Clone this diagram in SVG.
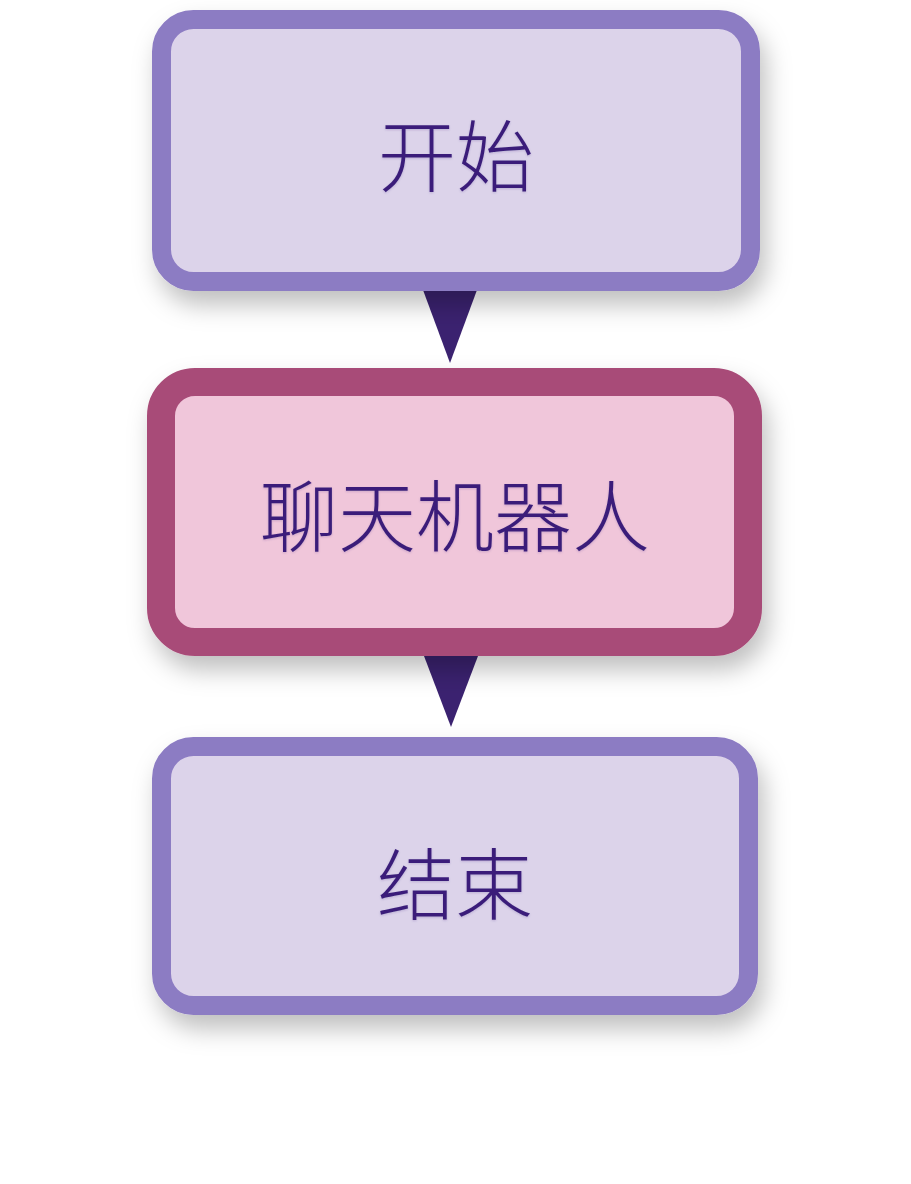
<svg xmlns="http://www.w3.org/2000/svg" width="911" height="1184" viewBox="0 0 911 1184">
  <defs>
    <filter id="shadow" x="-20%" y="-20%" width="140%" height="160%">
      <feDropShadow dx="6" dy="14" stdDeviation="12" flood-color="#000" flood-opacity="0.25"/>
    </filter>
    <filter id="tshadow" x="-10%" y="-10%" width="120%" height="130%">
      <feDropShadow dx="0" dy="1" stdDeviation="1" flood-color="#3a1f7a" flood-opacity="0.2"/>
    </filter>
  </defs>
  <style>
    .lav rect { fill: #dcd3ea; stroke: #8c7bc3; stroke-width: 19; }
    .pink rect { fill: #f0c6da; stroke: #a84c78; stroke-width: 28; }
    .lbl { font-family: "Noto Sans CJK SC", "Noto Sans", sans-serif; font-size: 78px; font-weight: 300; fill: #3a1f7a; text-anchor: middle; dominant-baseline: central; }
    .arr { fill: #3b2270; }
  </style>
  <rect width="911" height="1184" fill="#ffffff"/>
  <g id="connectors">
    <path class="arr" d="M423,290 L477,290 L450,363 Z"/>
    <path class="arr" d="M424,656 L478,656 L451,727 Z"/>
  </g>
  <g id="node-start" class="lav">
    <rect x="161.5" y="19.5" width="589" height="262" rx="32" filter="url(#shadow)"/>
    <text class="lbl" x="456" y="152" filter="url(#tshadow)">开始</text>
  </g>
  <g id="node-chatbot" class="pink">
    <rect x="161" y="382" width="587" height="260" rx="34" filter="url(#shadow)"/>
    <text class="lbl" x="455" y="512" filter="url(#tshadow)">聊天机器人</text>
  </g>
  <g id="node-end" class="lav">
    <rect x="161.5" y="746.5" width="587" height="259" rx="32" filter="url(#shadow)"/>
    <text class="lbl" x="455" y="880" filter="url(#tshadow)">结束</text>
  </g>
</svg>
